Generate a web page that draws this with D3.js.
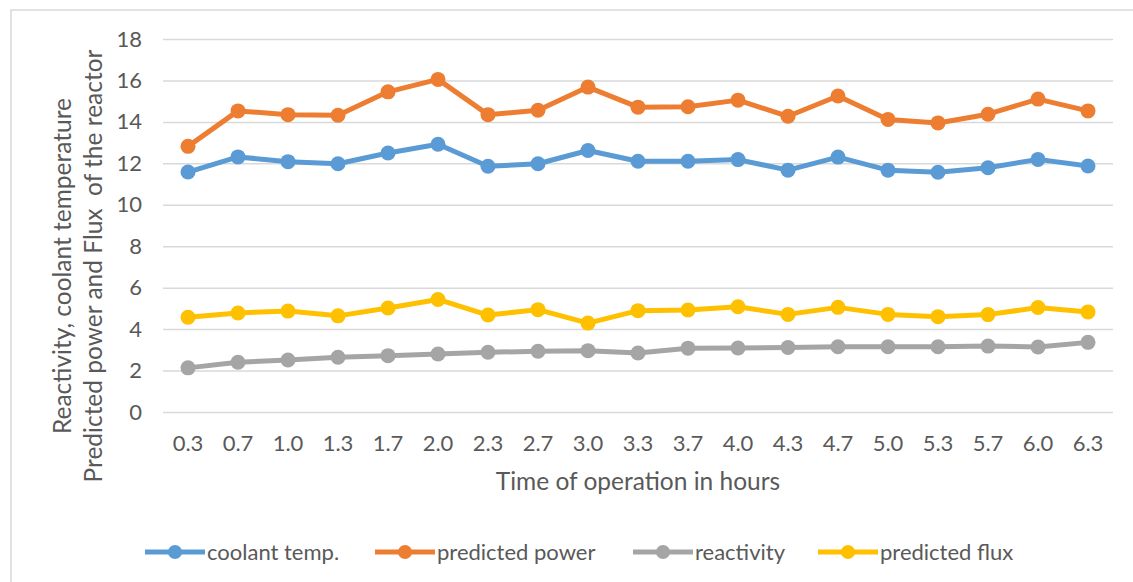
<!DOCTYPE html>
<html><head><meta charset="utf-8">
<script src="https://cdn.jsdelivr.net/npm/d3@7/dist/d3.min.js"></script>
<style>
html,body{margin:0;padding:0;background:#fff;}
svg{display:block;}
text{font-family:Lato, "Open Sans", sans-serif;fill:#595959;white-space:pre;}
</style></head>
<body>
<svg id="chart" width="1133" height="582"></svg>
<script>
const categories = ["0.3","0.7","1.0","1.3","1.7","2.0","2.3","2.7","3.0","3.3","3.7","4.0","4.3","4.7","5.0","5.3","5.7","6.0","6.3"];
const coolantTemp = [11.58,12.31,12.08,11.98,12.5,12.92,11.86,11.98,12.62,12.1,12.1,12.18,11.67,12.3,11.67,11.57,11.79,12.19,11.87];
const predictedPower = [12.82,14.53,14.35,14.32,15.45,16.05,14.35,14.56,15.68,14.71,14.73,15.05,14.27,15.25,14.12,13.95,14.37,15.1,14.53];
const reactivity = [2.13,2.4,2.51,2.64,2.72,2.8,2.88,2.93,2.96,2.85,3.08,3.09,3.11,3.15,3.15,3.15,3.18,3.14,3.36];
const predictedFlux = [4.57,4.78,4.87,4.64,5.02,5.43,4.68,4.94,4.29,4.89,4.92,5.08,4.71,5.05,4.71,4.6,4.7,5.04,4.83];
const yTicks = [0,2,4,6,8,10,12,14,16,18];
const seriesNames = ["coolant temp.","predicted power","reactivity","predicted flux"];
const seriesColors = ["#5B9BD5","#ED7D31","#A5A5A5","#FFC000"];
const seriesValues = [coolantTemp, predictedPower, reactivity, predictedFlux];
const yTitleLines = ["Reactivity, coolant temperature","Predicted power and Flux  of the reactor"];
const xTitle = "Time of operation in hours";

const svg = d3.select("#chart");
// chart border
svg.append("rect").attr("x",11).attr("y",10).attr("width",1140).attr("height",590)
  .attr("fill","none").attr("stroke","#D9D9D9").attr("stroke-width",1.5);

const x = d3.scaleBand().domain(categories).range([163,1113]).padding(0);
const y = d3.scaleLinear().domain([0,18]).range([412,39]);
const cx = c => x(c) + x.bandwidth()/2;

// gridlines
const yAxis = d3.axisLeft(y).tickValues(yTicks).tickSize(-(1113-163)).tickPadding(21).tickFormat(d3.format("d"));
const gy = svg.append("g").attr("transform","translate(163,0)").call(yAxis);
gy.select(".domain").remove();
gy.selectAll(".tick line").attr("stroke","#D9D9D9").attr("stroke-width",1.5);
gy.selectAll(".tick text").attr("font-size",22).attr("fill","#595959").style("font-family","Lato");

const xAxis = d3.axisBottom(x).tickSize(0).tickPadding(23);
const gx = svg.append("g").attr("transform","translate(0,412)").call(xAxis);
gx.select(".domain").remove();
gx.selectAll(".tick text").attr("font-size",22).attr("fill","#595959").style("font-family","Lato");

// lines
const line = d3.line().x((d,i)=>cx(categories[i])).y(d=>y(d));
seriesValues.forEach((vals,k)=>{
  const g = svg.append("g");
  g.append("path").datum(vals).attr("d",line).attr("fill","none")
    .attr("stroke",seriesColors[k]).attr("stroke-width",5).attr("stroke-linejoin","round");
  g.selectAll("circle").data(vals).join("circle")
    .attr("cx",(d,i)=>cx(categories[i])).attr("cy",d=>y(d)).attr("r",7.5)
    .attr("fill",seriesColors[k]);
});

// y title
const yt = svg.append("text").attr("transform","translate(71,266) rotate(-90)")
  .attr("text-anchor","middle").attr("font-size",24.5);
yt.append("tspan").attr("x",0).attr("y",0).text(yTitleLines[0]);
yt.append("tspan").attr("x",0).attr("y",31).text(yTitleLines[1]);

// x title
svg.append("text").attr("x",638).attr("y",490).attr("text-anchor","middle").attr("font-size",24.5).text(xTitle);

// legend
const legendX = [145,375,633,818];
seriesNames.forEach((n,k)=>{
  const g = svg.append("g").attr("transform",`translate(${legendX[k]},552)`);
  g.append("line").attr("x1",0).attr("x2",60).attr("y1",0).attr("y2",0)
    .attr("stroke",seriesColors[k]).attr("stroke-width",5);
  g.append("circle").attr("cx",30).attr("cy",0).attr("r",7).attr("fill",seriesColors[k]);
  g.append("text").attr("x",62).attr("y",8).attr("font-size",22).text(n);
});
</script>
</body></html>
